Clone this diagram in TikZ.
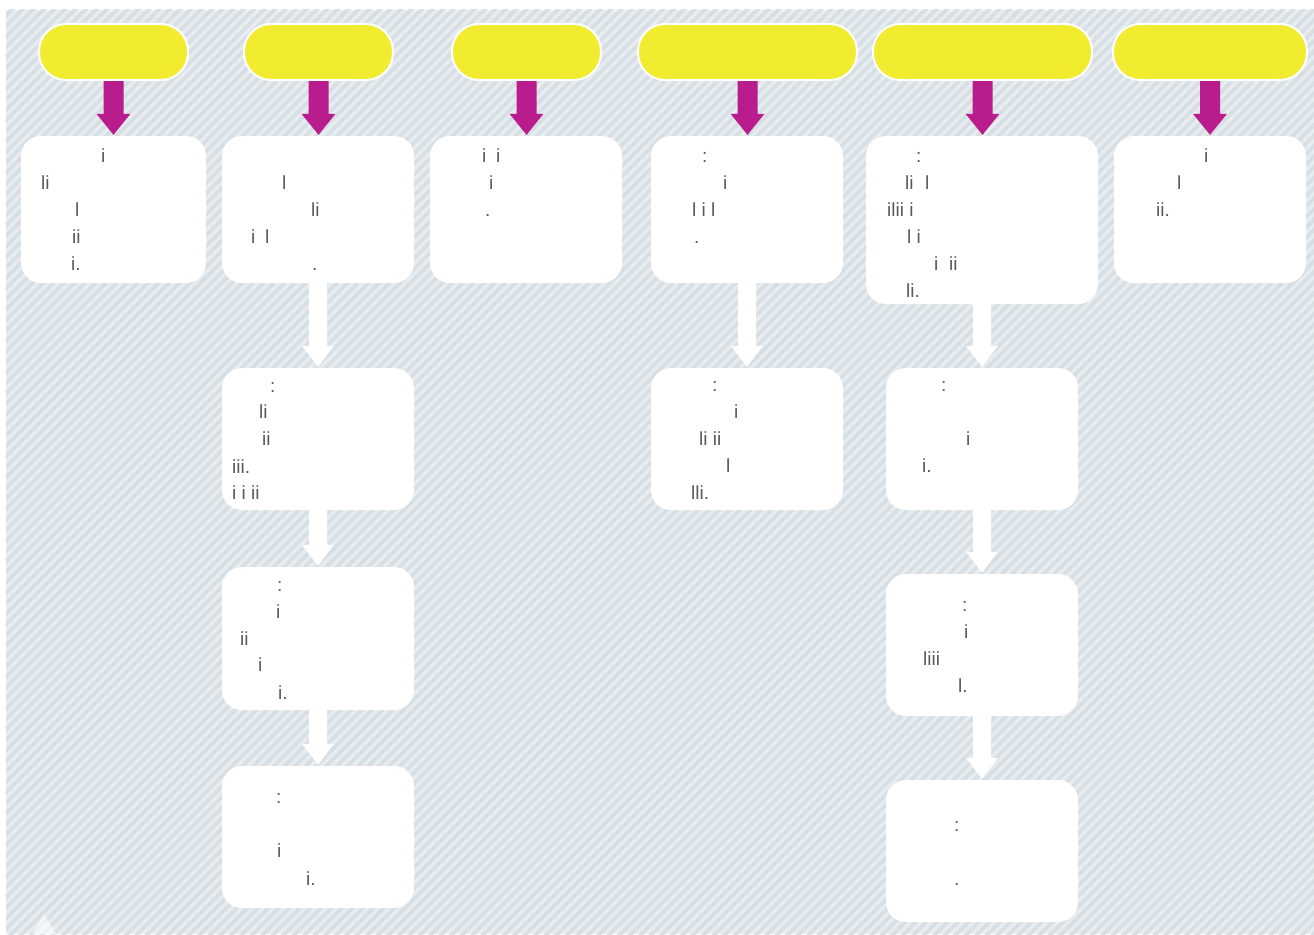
\documentclass[tikz,border=0pt]{standalone}
\usepackage{fontspec}
\setmainfont{Liberation Sans}
\usetikzlibrary{calc}
\definecolor{bgc}{HTML}{E6ECEF}
\definecolor{stripec}{HTML}{D7DFE4}
\definecolor{pillc}{HTML}{F2EC30}
\definecolor{magc}{HTML}{B91C8C}
\definecolor{txtc}{HTML}{5A5A5A}
\tikzset{
  pill/.style={draw=white, line width=2pt, fill=pillc, rounded corners=27pt, inner sep=0pt, minimum height=56pt},
  card/.style={fill=white, rounded corners=20pt, inner sep=0pt},
  frag/.style={anchor=base west, inner sep=0pt, text=txtc, font=\fontsize{19}{19}\selectfont},
}
\newcommand\blkarrow[3]{%
  \fill[#3] let \p1=(#1.south), \p2=(#2.north) in
    (\x1-10pt,\y1) -- (\x1+10pt,\y1) -- (\x1+10pt,\y2+22pt) -- (\x1+17pt,\y2+22pt)
    -- (\x1,\y2+1pt) -- (\x1-17pt,\y2+22pt) -- (\x1-10pt,\y2+22pt) -- cycle;}
\newcommand\whtarrow[2]{%
  \fill[white] let \p1=(#1.south), \p2=(#2.north) in
    (\x1-9pt,\y1+1pt) -- (\x1+9pt,\y1+1pt) -- (\x1+9pt,\y2+22pt) -- (\x1+16pt,\y2+22pt)
    -- (\x1,\y2+1pt) -- (\x1-16pt,\y2+22pt) -- (\x1-9pt,\y2+22pt) -- cycle;}
\begin{document}
\begin{tikzpicture}[x=1pt,y=-1pt]
\useasboundingbox (0,0) rectangle (1314,934);
\fill[white] (0,0) rectangle (1314,934);
\fill[bgc] (6,10) rectangle (1314,934);
\begin{scope}
\clip (6,10) rectangle (1314,934);
\foreach \k in {0,10.5,...,2300} {
  \draw[stripec, line width=3.6pt] (\k-950,940) -- (\k,-10);
}
\end{scope}
% faint triangle bottom-left
\fill[white, opacity=0.6] (44,914) -- (56,934) -- (32,934) -- cycle;

% pills
\node[pill, minimum width=149pt] (p1) at (113.5,52) {};
\node[pill, minimum width=149pt] (p2) at (318.5,52) {};
\node[pill, minimum width=149pt] (p3) at (526.5,52) {};
\node[pill, minimum width=219pt] (p4) at (747.5,52) {};
\node[pill, minimum width=219pt] (p5) at (982.5,52) {};
\node[pill, minimum width=194pt] (p6) at (1210,52) {};

% cards
\node[card, minimum width=185pt, minimum height=147pt] (c1) at (113.5,209.5) {};
\node[card, minimum width=192pt, minimum height=147pt] (c2) at (318,209.5) {};
\node[card, minimum width=192pt, minimum height=147pt] (c3) at (526,209.5) {};
\node[card, minimum width=192pt, minimum height=147pt] (c4) at (747,209.5) {};
\node[card, minimum width=232pt, minimum height=168pt] (c5) at (982,220) {};
\node[card, minimum width=192pt, minimum height=147pt] (c6) at (1210,209.5) {};
\node[card, minimum width=192pt, minimum height=142pt] (c2a) at (318,439) {};
\node[card, minimum width=192pt, minimum height=143pt] (c2b) at (318,638.5) {};
\node[card, minimum width=192pt, minimum height=142pt] (c2c) at (318,837) {};
\node[card, minimum width=192pt, minimum height=142pt] (c4a) at (747,439) {};
\node[card, minimum width=192pt, minimum height=142pt] (c5a) at (982,439) {};
\node[card, minimum width=192pt, minimum height=142pt] (c5b) at (982,645) {};
\node[card, minimum width=192pt, minimum height=142pt] (c5c) at (982,851) {};

% magenta arrows
\blkarrow{p1}{c1}{magc}
\blkarrow{p2}{c2}{magc}
\blkarrow{p3}{c3}{magc}
\blkarrow{p4}{c4}{magc}
\blkarrow{p5}{c5}{magc}
\blkarrow{p6}{c6}{magc}

% white arrows
\whtarrow{c2}{c2a}
\whtarrow{c2a}{c2b}
\whtarrow{c2b}{c2c}
\whtarrow{c4}{c4a}
\whtarrow{c5}{c5a}
\whtarrow{c5a}{c5b}
\whtarrow{c5b}{c5c}

% text fragments column 1
\node[frag] (t1a) at (101,162) {i};
\node[frag] (t1b) at (41,189) {li};
\node[frag] (t1c) at (75,216) {l};
\node[frag] (t1d) at (72,243) {ii};
\node[frag] (t1e) at (71,270) {i.};
% column 2
\node[frag] (t2a) at (282,189) {l};
\node[frag] (t2b) at (311,216) {li};
\node[frag] (t2c) at (251,243) {i};
\node[frag] (t2d) at (265,243) {l};
\node[frag] (t2e) at (312,270) {.};
% column 3
\node[frag] (t3a) at (482,162) {i};
\node[frag] (t3b) at (496,162) {i};
\node[frag] (t3c) at (489,189) {i};
\node[frag] (t3d) at (485,216) {.};
% column 4
\node[frag] (t4a) at (702,162) {:};
\node[frag] (t4b) at (723,189) {i};
\node[frag] (t4c) at (692,216) {l i l};
\node[frag] (t4d) at (694,243) {.};
% column 5
\node[frag] (t5a) at (916,162) {:};
\node[frag] (t5b) at (905,189) {li};
\node[frag] (t5c) at (925,189) {l};
\node[frag] (t5d) at (887,216) {ilii i};
\node[frag] (t5e) at (907,243) {l i};
\node[frag] (t5f) at (934,270) {i};
\node[frag] (t5g) at (949,270) {ii};
\node[frag] (t5h) at (906,297) {li.};
% column 6
\node[frag] (t6a) at (1204,162) {i};
\node[frag] (t6b) at (1177,189) {l};
\node[frag] (t6c) at (1156,216) {ii.};
% column 2 lower
\node[frag] (u1a) at (270,392) {:};
\node[frag] (u1b) at (259,418) {li};
\node[frag] (u1c) at (262,445) {ii};
\node[frag] (u1d) at (232,473) {iii.};
\node[frag] (u1e) at (232,499) {i i ii};
\node[frag] (u2a) at (277,591) {:};
\node[frag] (u2b) at (276,618) {i};
\node[frag] (u2c) at (240,645) {ii};
\node[frag] (u2d) at (258,671) {i};
\node[frag] (u2e) at (278,699) {i.};
\node[frag] (u3a) at (276,803) {:};
\node[frag] (u3b) at (277,857) {i};
\node[frag] (u3c) at (306,885) {i.};
% column 4 lower
\node[frag] (v1a) at (712,391) {:};
\node[frag] (v1b) at (734,418) {i};
\node[frag] (v1c) at (699,445) {li ii};
\node[frag] (v1d) at (726,472) {l};
\node[frag] (v1e) at (691,499) {lli.};
% column 5 lower
\node[frag] (w1a) at (941,391) {:};
\node[frag] (w1b) at (966,445) {i};
\node[frag] (w1c) at (922,472) {i.};
\node[frag] (w2a) at (962,611) {:};
\node[frag] (w2b) at (964,638) {i};
\node[frag] (w2c) at (923,665) {liii};
\node[frag] (w2d) at (958,692) {l.};
\node[frag] (w3a) at (954,831) {:};
\node[frag] (w3b) at (954,885) {.};
\end{tikzpicture}
\end{document}
